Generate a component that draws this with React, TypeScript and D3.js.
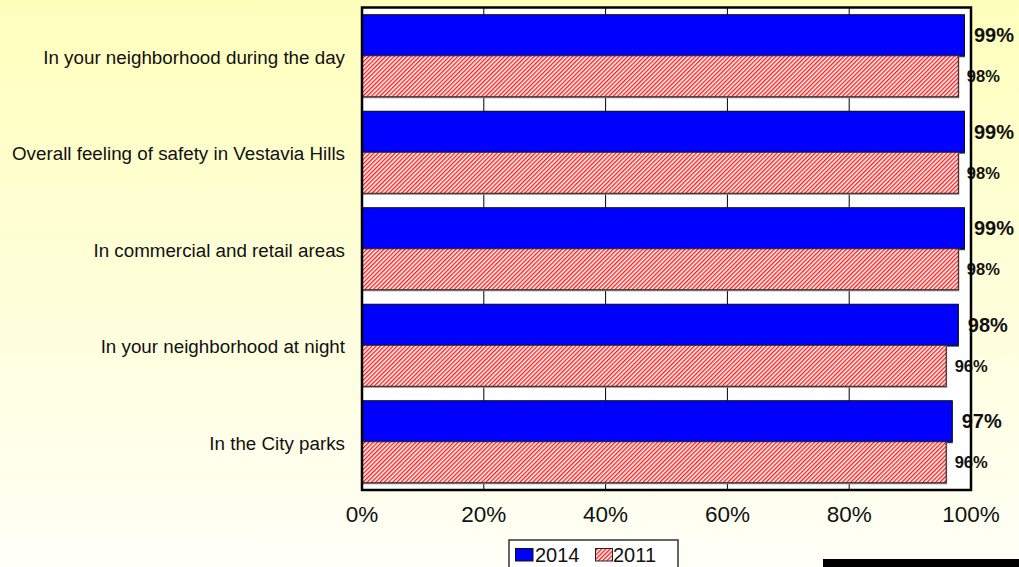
import React from "react";
import * as d3 from "d3";

const categories = [
  "In your neighborhood during the day",
  "Overall feeling of safety in Vestavia Hills",
  "In commercial and retail areas",
  "In your neighborhood at night",
  "In the City parks",
];
const series = ["2014", "2011"];
const values2014 = [99, 99, 99, 98, 97];
const values2011 = [98, 98, 98, 96, 96];
const xTicks = [0, 20, 40, 60, 80, 100];

const W = 1019;
const H = 567;
const plot = { left: 362, right: 971, top: 7.5, bottom: 490 };
const font = "Arial, 'Liberation Sans', sans-serif";

export default function App() {
  const x = d3.scaleLinear().domain([0, 100]).range([plot.left, plot.right]);
  const y = d3
    .scaleBand<string>()
    .domain(categories)
    .range([plot.top, plot.bottom])
    .paddingInner(0.15)
    .paddingOuter(0.075);
  const sub = d3.scaleBand<string>().domain(series).range([0, y.bandwidth()]);

  const rows = categories.map((c, i) => ({ c, v14: values2014[i], v11: values2011[i] }));

  return (
    <div style={{ position: "absolute", left: 0, top: 0 }}>
      <svg width={W} height={H} style={{ display: "block" }}>
        <defs>
          <linearGradient id="bg" x1="0" y1="0" x2="0" y2="1">
            <stop offset="0" stopColor="#FFFFBC" />
            <stop offset="1" stopColor="#FFFFF6" />
          </linearGradient>
          <pattern id="hatch" width="3" height="3" patternUnits="userSpaceOnUse" patternTransform="rotate(45)">
            <rect width="3" height="3" fill="#fff" />
            <rect width="1.4" height="3" fill="#FF1A1A" />
          </pattern>
        </defs>
        <rect width={W} height={H} fill="url(#bg)" />

        {/* plot area */}
        <rect
          x={plot.left}
          y={plot.top}
          width={plot.right - plot.left}
          height={plot.bottom - plot.top}
          fill="#fff"
        />
        {xTicks.slice(1, -1).map((t) => (
          <line key={t} x1={x(t)} x2={x(t)} y1={plot.top} y2={plot.bottom} stroke="#000" strokeWidth={1} />
        ))}

        {rows.map((r) => {
          const y0 = y(r.c)!;
          const b14 = y0 + sub("2014")!;
          const b11 = y0 + sub("2011")!;
          const h = sub.bandwidth();
          return (
            <g key={r.c}>
              <rect x={x(0)} y={b14} width={x(r.v14) - x(0)} height={h + 1.5} fill="#444" />
              <rect
                x={x(0)}
                y={b14}
                width={x(r.v14) - x(0) - 0.5}
                height={h}
                fill="#0000FF"
                stroke="#111"
                strokeWidth={1}
              />
              <rect x={x(0)} y={b11} width={x(r.v11) - x(0) + 0.5} height={h + 1.5} fill="#888" />
              <rect
                x={x(0)}
                y={b11}
                width={x(r.v11) - x(0) - 0.5}
                height={h}
                fill="url(#hatch)"
                stroke="#222"
                strokeWidth={1}
              />
              <text
                x={x(r.v14) + 9}
                y={b14 + h / 2}
                dy="0.36em"
                fontFamily={font}
                fontWeight="bold"
                fontSize={20}
                fill="#111"
              >
                {r.v14}%
              </text>
              <text
                x={x(r.v11) + 8}
                y={b11 + h / 2}
                dy="0.36em"
                fontFamily={font}
                fontWeight="bold"
                fontSize={16.5}
                fill="#111"
              >
                {r.v11}%
              </text>
              <text
                x={345}
                y={y0 + y.bandwidth() / 2 + 1}
                dy="0.36em"
                textAnchor="end"
                fontFamily={font}
                fontSize={18.8}
                fill="#111"
              >
                {r.c}
              </text>
            </g>
          );
        })}

        <rect
          x={plot.left}
          y={plot.top}
          width={plot.right - plot.left}
          height={plot.bottom - plot.top}
          fill="none"
          stroke="#000"
          strokeWidth={2.5}
        />

        {xTicks.map((t) => (
          <text key={t} x={x(t)} y={522} textAnchor="middle" fontFamily={font} fontSize={22.5} fill="#111">
            {t}%
          </text>
        ))}

        {/* legend */}
        <rect x={509} y={540} width={169} height={40} fill="#fff" stroke="#333" strokeWidth={1.5} />
        <rect x={515.5} y={548.5} width={17.5} height={12.5} fill="#0000FF" stroke="#111" strokeWidth={1} />
        <text x={535} y={562} fontFamily={font} fontSize={20} fill="#111">
          2014
        </text>
        <rect x={595.5} y={548.5} width={17} height={12.5} fill="url(#hatch)" stroke="#222" strokeWidth={1} />
        <text x={613} y={562} fontFamily={font} fontSize={20} fill="#111">
          2011
        </text>

        <rect x={823} y={559} width={W - 823} height={H - 559} fill="#000" />
      </svg>
    </div>
  );
}
